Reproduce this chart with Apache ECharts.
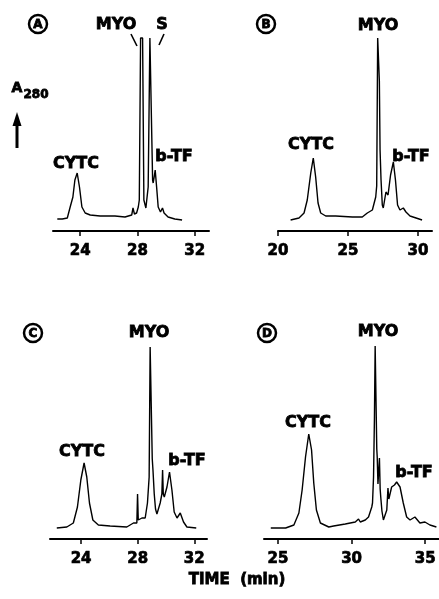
<!DOCTYPE html>
<html>
<head>
<meta charset="utf-8">
<script src="https://cdn.jsdelivr.net/npm/echarts@6/dist/echarts.min.js"></script>
<style>html,body{margin:0;padding:0;background:#fff}#c{width:439px;height:599px}</style>
</head>
<body>
<div id="c"></div>
<script>
// Chromatogram traces: [time (min), A280 (arbitrary units)]
const traceA = [[22.40,12],[22.75,12],[23.10,13],[23.30,24],[23.49,34],[23.63,51],[23.79,58],[23.95,44],[24.12,24],[24.35,18],[24.70,16],[25.39,15],[26.43,15],[27.13,14],[27.60,16],[27.69,23],[27.79,17],[27.94,18],[28.06,24],[28.13,31],[28.22,193],[28.36,193],[28.45,31],[28.59,23],[28.75,44],[28.87,193],[28.99,193],[29.06,51],[29.10,48],[29.17,54],[29.24,61],[29.34,44],[29.45,24],[29.61,19],[29.75,23],[29.86,18],[30.14,14],[30.61,12],[31.12,11]];
const traceB = [[20.90,11],[21.50,13],[21.86,18],[22.09,31],[22.34,58],[22.52,73],[22.69,54],[22.86,28],[23.05,18],[23.41,15],[24.12,15],[25.31,14],[26.02,14],[26.38,18],[26.74,21],[26.98,34],[27.05,45],[27.12,193],[27.19,193],[27.24,150],[27.29,81],[27.36,51],[27.45,26],[27.52,23],[27.71,39],[27.86,36],[28.04,56],[28.24,69],[28.39,51],[28.54,26],[28.71,21],[28.95,23],[29.14,19],[29.43,15],[29.86,13],[30.29,11]];
const traceC = [[22.28,11],[22.99,12],[23.45,16],[23.74,32],[23.98,59],[24.21,76],[24.40,62],[24.59,36],[24.83,19],[25.22,14],[26.05,13],[27.23,12],[27.70,16],[27.94,16],[27.99,45],[28.04,19],[28.30,21],[28.53,21],[28.69,36],[28.81,62],[28.88,192],[28.96,192],[29.03,80],[29.08,69],[29.17,45],[29.26,30],[29.36,25],[29.59,36],[29.71,45],[29.76,69],[29.81,45],[29.88,42],[30.07,52],[30.25,67],[30.42,49],[30.58,27],[30.78,21],[31.01,26],[31.24,17],[31.48,12],[32.14,11]];
const traceD = [[24.51,11],[25.52,11],[26.08,14],[26.42,26],[26.64,49],[26.87,82],[27.09,105],[27.28,89],[27.43,56],[27.61,29],[27.88,16],[28.45,12],[28.78,13],[28.90,15],[29.57,15],[30.25,17],[30.47,20],[30.59,17],[30.93,19],[31.15,22],[31.37,32],[31.42,36],[31.49,62],[31.55,120],[31.60,193],[31.67,193],[31.71,90],[31.74,82],[31.79,55],[31.85,70],[31.89,81],[31.94,50],[31.98,42],[32.06,28],[32.16,19],[32.39,29],[32.47,51],[32.53,40],[32.72,52],[32.91,54],[33.06,57],[33.29,52],[33.51,36],[33.74,22],[33.97,19],[34.30,22],[34.64,16],[34.98,17],[35.32,14],[35.76,12]];

// Tick labels per panel
const ticksA = [24, 28, 32];
const ticksB = [20, 25, 30];
const ticksC = [24, 28, 32];
const ticksD = [25, 30, 35];

// Axis ranges (min)
const rangeA = [22.1, 33];
const rangeB = [20, 31];
const rangeC = [21.8, 32.9];
const rangeD = [24.05, 35.9];

const panelLetters = ['A', 'B', 'C', 'D'];
const xTitle = 'TIME  (min)';
const yTitle = 'A';
const yTitleSub = '280';

const FONT = 'DejaVu Sans';
const grids = [
  {left: 53, top: 38, width: 156, height: 193},
  {left: 278, top: 38, width: 154, height: 193},
  {left: 50, top: 345, width: 157, height: 194},
  {left: 264, top: 345, width: 175, height: 194}
];
const yMax = [193, 193, 194, 194];
const traces = [traceA, traceB, traceC, traceD];
const ticks = [ticksA, ticksB, ticksC, ticksD];
const ranges = [rangeA, rangeB, rangeC, rangeD];

const chart = echarts.init(document.getElementById('c'), null, {renderer: 'canvas'});

const xAxes = ranges.map((r, i) => ({
  gridIndex: i, type: 'value', min: r[0], max: r[1],
  axisLine: {show: true, onZero: false, lineStyle: {color: '#000', width: 2}},
  axisTick: {show: true, inside: false, length: 5, lineStyle: {color: '#000', width: 1.5}, customValues: ticks[i]},
  axisLabel: {show: true, margin: 13, color: '#000', fontFamily: FONT, fontWeight: 'bold', fontSize: 15,
    textBorderColor: '#000', textBorderWidth: 0.7, customValues: ticks[i]},
  splitLine: {show: false}
}));
const yAxes = yMax.map((m, i) => ({
  gridIndex: i, type: 'value', min: 0, max: m, show: false, splitLine: {show: false}
}));
const series = traces.map((t, i) => ({
  type: 'line', xAxisIndex: i, yAxisIndex: i, data: t, showSymbol: false, symbol: 'none',
  lineStyle: {color: '#000', width: 1.4}, clip: false, animation: false, silent: true
}));

function txt(x, y, s, size, extra) {
  return Object.assign({type: 'text', x: x, y: y, style: {text: s, fill: '#000', stroke: '#000', lineWidth: 0.8, font: 'bold ' + size + 'px "' + FONT + '"', textAlign: 'center', textVerticalAlign: 'middle'}}, extra || {});
}
function circLetter(cx, cy, letter) {
  return [
    {type: 'circle', shape: {cx: cx, cy: cy, r: 9}, style: {fill: '#fff', stroke: '#000', lineWidth: 2.5}},
    txt(cx, cy + 0.5, letter, 12)
  ];
}

const graphics = [].concat(
  circLetter(38, 24, panelLetters[0]),
  circLetter(266, 24, panelLetters[1]),
  circLetter(33, 333, panelLetters[2]),
  circLetter(267, 333, panelLetters[3]),
  [
    // panel A annotations
    txt(116, 25, 'MYO', 16), txt(162, 25, 'S', 16),
    {type: 'line', shape: {x1: 131, y1: 34, x2: 137, y2: 46}, style: {stroke: '#000', lineWidth: 1.6}},
    {type: 'line', shape: {x1: 164, y1: 34, x2: 159, y2: 45}, style: {stroke: '#000', lineWidth: 1.6}},
    txt(76, 164, 'CYTC', 16), txt(174, 157, 'b-TF', 16),
    // y title
    txt(17, 88, yTitle, 14),
    txt(36, 95, yTitleSub, 12),
    {type: 'line', shape: {x1: 17, y1: 148, x2: 17, y2: 122}, style: {stroke: '#000', lineWidth: 3}},
    {type: 'polygon', shape: {points: [[12.5, 126], [21.5, 126], [17, 112]]}, style: {fill: '#000'}},
    // panel B
    txt(378, 26, 'MYO', 16), txt(311, 145, 'CYTC', 16), txt(411, 157, 'b-TF', 16),
    // panel C
    txt(149, 333, 'MYO', 16), txt(82, 452, 'CYTC', 16), txt(187, 461, 'b-TF', 16),
    // panel D
    txt(378, 332, 'MYO', 16), txt(308, 423, 'CYTC', 16), txt(414, 473, 'b-TF', 16),
    // x title
    txt(237, 580, xTitle, 15)
  ]
);

chart.setOption({
  animation: false,
  backgroundColor: '#fff',
  grid: grids,
  xAxis: xAxes,
  yAxis: yAxes,
  series: series,
  graphic: graphics
});
</script>
</body>
</html>
